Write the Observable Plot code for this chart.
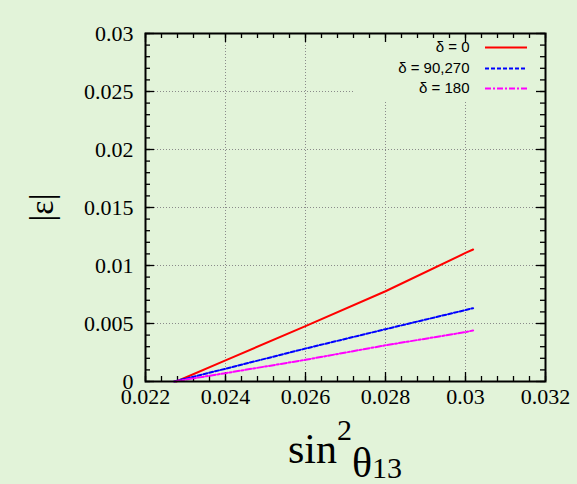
<!DOCTYPE html>
<html><head><meta charset="utf-8">
<script src="https://cdn.jsdelivr.net/npm/d3@7"></script>
<script src="https://cdn.jsdelivr.net/npm/@observablehq/plot@0.6"></script>
<style>
html,body{margin:0;padding:0;background:#e2f3d9;overflow:hidden;}
#chart svg{display:block;}
</style></head><body><div id="chart"></div>
<script>
// ---- data ----
const seriesNames = ["δ = 0", "δ = 90,270", "δ = 180"];
const redX  = [0.02277, 0.024, 0.026, 0.028, 0.030, 0.03019];
const redY  = [0, 0.00182, 0.00478, 0.00778, 0.01108, 0.01138];
const blueX = [0.02272, 0.024, 0.026, 0.028, 0.030, 0.03019];
const blueY = [0, 0.0011, 0.00284, 0.00451, 0.00616, 0.00632];
const magX  = [0.02272, 0.024, 0.026, 0.028, 0.030, 0.03019];
const magY  = [0, 0.00072, 0.00187, 0.00312, 0.00426, 0.0044];
const xTicks = [0.022, 0.024, 0.026, 0.028, 0.030, 0.032];
const xTickLabels = ["0.022", "0.024", "0.026", "0.028", "0.03", "0.032"];
const yTicks = [0, 0.005, 0.01, 0.015, 0.02, 0.025, 0.03];
const yTickLabels = ["0", "0.005", "0.01", "0.015", "0.02", "0.025", "0.03"];
const xMinorStep = 0.0004;
const yMinorStep = 0.001;

// ---- layout ----
const W = 577, H = 484;
const mL = 145, mR = 32, mT = 33, mB = 103;
const xDom = [0.022, 0.032], yDom = [0, 0.03];
const pxX = (xDom[1] - xDom[0]) / (W - mL - mR); // data per px
const pxY = (yDom[1] - yDom[0]) / (H - mT - mB);
const bg = "#e2f3d9";
const serif = "'Liberation Serif', 'Times New Roman', serif";
const sans = "'Liberation Sans', Arial, sans-serif";

const toRows = (xs, ys, name) => xs.map((x, i) => ({x, y: ys[i], name}));
const red = toRows(redX, redY, seriesNames[0]);
const blue = toRows(blueX, blueY, seriesNames[1]);
const mag = toRows(magX, magY, seriesNames[2]);

const range = (a, b, s) => { const r = []; for (let i = 0; a + i * s <= b + 1e-12; i++) r.push(+(a + i * s).toFixed(6)); return r; };
const xMinor = range(xDom[0], xDom[1], xMinorStep);
const yMinor = range(yDom[0], yDom[1], yMinorStep);
const majL = 9, minL = 5;

const gridStyle = {stroke: "#8a8a8a", strokeWidth: 1, strokeDasharray: "1,2"};
const tickStyle = {stroke: "black", strokeWidth: 1.3};

// legend layout (in data units from the plot's px geometry)
const legTextX = xDom[0] + (469 - mL) * pxX;
const legLineX1 = xDom[0] + (485 - mL) * pxX;
const legLineX2 = xDom[0] + (527 - mL) * pxX;
const legRowsY = [47, 68, 88].map(p => yDom[1] - (p - mT) * pxY);

const colors = ["#ff0000", "#0000ff", "#ff00ff"];
const dashes = [null, "4,2", "6,2,2,2"];

const marks = [
  // grid
  Plot.ruleX(xTicks.slice(1, -1), {x: d => d, ...gridStyle}),
  Plot.ruleY(yTicks.slice(1, -1), {y: d => d, ...gridStyle}),
  // key box (opaque, hides grid)
  Plot.rect([0], {x1: xDom[0] + (355 - mL) * pxX, x2: xDom[1], y1: yDom[1] - (100 - mT) * pxY, y2: yDom[1], fill: bg}),
  // minor ticks
  Plot.ruleX(xMinor, {x: d => d, y1: yDom[0], y2: yDom[0] + minL * pxY, ...tickStyle}),
  Plot.ruleX(xMinor, {x: d => d, y1: yDom[1] - minL * pxY, y2: yDom[1], ...tickStyle}),
  Plot.ruleY(yMinor, {y: d => d, x1: xDom[0], x2: xDom[0] + minL * pxX, ...tickStyle}),
  Plot.ruleY(yMinor, {y: d => d, x1: xDom[1] - minL * pxX, x2: xDom[1], ...tickStyle}),
  // major ticks
  Plot.ruleX(xTicks, {x: d => d, y1: yDom[0], y2: yDom[0] + majL * pxY, ...tickStyle}),
  Plot.ruleX(xTicks, {x: d => d, y1: yDom[1] - majL * pxY, y2: yDom[1], ...tickStyle}),
  Plot.ruleY(yTicks, {y: d => d, x1: xDom[0], x2: xDom[0] + majL * pxX, ...tickStyle}),
  Plot.ruleY(yTicks, {y: d => d, x1: xDom[1] - majL * pxX, x2: xDom[1], ...tickStyle}),
  // tick labels
  Plot.text(xTicks, {x: d => d, y: yDom[0], text: (d, i) => xTickLabels[i], lineAnchor: "top", dy: 7, fontSize: 22, fontFamily: serif, fill: "black", className: "ticklab"}),
  Plot.text(yTicks, {y: d => d, x: xDom[0], text: (d, i) => yTickLabels[i], textAnchor: "end", dx: -12, fontSize: 22, fontFamily: serif, fill: "black", className: "ticklab"}),
  // data lines
  Plot.line(red, {x: "x", y: "y", stroke: colors[0], strokeWidth: 2}),
  Plot.line(blue, {x: "x", y: "y", stroke: colors[1], strokeWidth: 2, strokeDasharray: dashes[1]}),
  Plot.line(mag, {x: "x", y: "y", stroke: colors[2], strokeWidth: 2, strokeDasharray: dashes[2]}),
  // legend
  ...seriesNames.map((n, i) => Plot.text([n], {x: legTextX, y: legRowsY[i], text: d => d, textAnchor: "end", fontSize: 15, fontFamily: sans, fill: "black"})),
  ...seriesNames.map((n, i) => Plot.ruleY([legRowsY[i]], {y: d => d, x1: legLineX1, x2: legLineX2, stroke: colors[i], strokeWidth: 2, strokeDasharray: dashes[i]})),
  // frame
  Plot.frame({stroke: "black", strokeWidth: 2})
];

const chart = Plot.plot({
  width: W, height: H,
  marginLeft: mL, marginRight: mR, marginTop: mT, marginBottom: mB,
  style: {background: bg, color: "black", overflow: "visible"},
  x: {domain: xDom, axis: null},
  y: {domain: yDom, axis: null},
  marks
});

const svg = d3.select(chart);
svg.selectAll(".ticklab, .ticklab text").style("font-family", serif).style("font-size", "22px");
// y label |ε|
svg.append("text")
  .attr("transform", "translate(41,207.5) rotate(-90)")
  .attr("text-anchor", "middle")
  .attr("dominant-baseline", "central")
  .style("font-family", serif)
  .attr("font-size", 34)
  .attr("fill", "black")
  .text("|ε|");
// x label sin^2 θ_13
const xl = svg.append("text")
  .attr("x", 345).attr("y", 463)
  .attr("text-anchor", "middle")
  .style("font-family", serif)
  .attr("font-size", 42)
  .attr("fill", "black");
xl.append("tspan").text("sin");
xl.append("tspan").attr("font-size", 30).attr("dy", -23).text("2");
xl.append("tspan").attr("dy", 37).text("θ");
xl.append("tspan").attr("font-size", 30).attr("dy", 1).text("13");

document.getElementById("chart").append(chart);
</script>
</body></html>
